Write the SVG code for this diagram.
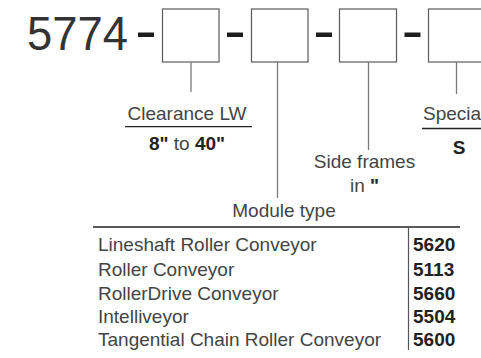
<svg xmlns="http://www.w3.org/2000/svg" width="481" height="358" viewBox="0 0 481 358">
<style>
.box{fill:#fff;stroke:#5a5a5a;stroke-width:1.2}
.dash{fill:#1e1e1e}
.lead{stroke:#7a7a7a;stroke-width:1.3;fill:none}
.rule{stroke:#222;stroke-width:1.3;fill:none}
.div{stroke:#555;stroke-width:1.2;fill:none}
.lbl{font-family:"Liberation Sans",Arial,sans-serif;font-size:19px;fill:#444}
.b{font-weight:bold;fill:#222}
.code{font-family:"Liberation Sans",Arial,sans-serif;font-size:19px;font-weight:bold;fill:#222}
</style>
<rect width="481" height="358" fill="#fff"/>
<g id="prefix">
<text x="27" y="50" font-family="Liberation Sans, Arial, sans-serif" font-size="49" fill="#333" textLength="101" lengthAdjust="spacingAndGlyphs">5774</text>
</g>
<g id="dashes">
<rect class="dash" x="138" y="32.5" width="16" height="4.5"/>
<rect class="dash" x="227" y="32.5" width="16" height="4.5"/>
<rect class="dash" x="316" y="32.5" width="16" height="4.5"/>
<rect class="dash" x="404.5" y="32.5" width="16" height="4.5"/>
</g>
<g id="box-clearance"><rect class="box" x="162.5" y="9" width="56.5" height="53"/></g>
<g id="box-module"><rect class="box" x="251.5" y="9" width="56.5" height="53"/></g>
<g id="box-sideframes"><rect class="box" x="339.5" y="9" width="57" height="53"/></g>
<g id="box-special"><rect class="box" x="428.5" y="9" width="57" height="53"/></g>
<g id="connectors">
<line class="lead" x1="191" y1="62" x2="191" y2="92"/>
<line class="lead" x1="277.5" y1="62" x2="277.5" y2="198"/>
<line class="lead" x1="368.5" y1="62" x2="368.5" y2="150"/>
<line class="lead" x1="456.5" y1="62" x2="456.5" y2="94"/>
</g>
<g id="clearance">
<text class="lbl" x="187" y="120" text-anchor="middle">Clearance LW</text>
<line class="rule" x1="125" y1="126.7" x2="252" y2="126.7"/>
<text class="lbl" x="187" y="149.5" text-anchor="middle"><tspan class="b">8"</tspan> to <tspan class="b">40"</tspan></text>
</g>
<g id="sideframes">
<text class="lbl" x="364.5" y="168" text-anchor="middle">Side frames</text>
<text class="lbl" x="364.5" y="192" text-anchor="middle">in <tspan class="b">"</tspan></text>
</g>
<g id="special">
<text class="lbl" x="423" y="120">Specia</text>
<line class="rule" x1="422" y1="128.5" x2="481" y2="128.5"/>
<text class="code" x="459" y="154" text-anchor="middle">S</text>
</g>
<g id="module-type">
<text class="lbl" x="284" y="217" text-anchor="middle">Module type</text>
<line class="rule" x1="93" y1="227" x2="460" y2="227"/>
<line class="div" x1="408.5" y1="227" x2="408.5" y2="350"/>
<text class="lbl" x="98" y="251">Lineshaft Roller Conveyor</text>
<text class="lbl" x="98" y="276">Roller Conveyor</text>
<text class="lbl" x="98" y="300">RollerDrive Conveyor</text>
<text class="lbl" x="98" y="323">Intelliveyor</text>
<text class="lbl" x="98" y="346">Tangential Chain Roller Conveyor</text>
<text class="code" x="413" y="251">5620</text>
<text class="code" x="413" y="276">5113</text>
<text class="code" x="413" y="300">5660</text>
<text class="code" x="413" y="323">5504</text>
<text class="code" x="413" y="346">5600</text>
</g>
</svg>
